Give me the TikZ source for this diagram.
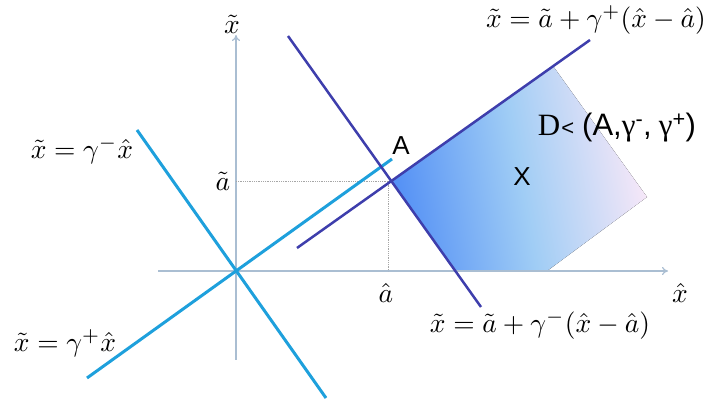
\documentclass[tikz,border=0pt]{standalone}
\usepackage{fontspec}
\setsansfont{Liberation Sans}
\newfontfamily\serifD{Liberation Serif}
\usetikzlibrary{arrows.meta}
\definecolor{cyanline}{RGB}{30,160,220}
\definecolor{darkline}{RGB}{62,62,172}
\definecolor{axiscol}{RGB}{170,190,210}
\definecolor{shadeA}{RGB}{85,145,245}
\definecolor{shadeB}{RGB}{160,205,245}
\definecolor{shadeC}{RGB}{248,232,248}
\tikzset{
  axis/.style={draw=axiscol, line width=1.2pt, -{To[length=6pt,width=8pt]}},
  cyanl/.style={draw=cyanline, line width=3pt},
  darkl/.style={draw=darkline, line width=2.5pt},
  guide/.style={draw=gray!70, line width=0.8pt, densely dotted},
  mlabel/.style={inner sep=0pt, scale=2.75},
  slabel/.style={inner sep=0pt, font=\sffamily\fontsize{26}{30}\selectfont},
}
\begin{document}
\begin{tikzpicture}[x=1pt,y=-1pt]
\useasboundingbox (0,0) rectangle (707,403);
% coordinates
\coordinate (O) at (236,271);
\coordinate (A) at (391,181);
\coordinate (ytop) at (236,35);
\coordinate (ybot) at (236,360);
\coordinate (xl) at (158,271);
\coordinate (xr) at (668,271);
\coordinate (cm1) at (137,130);
\coordinate (cm2) at (326,398);
\coordinate (cp1) at (87,378);
\coordinate (cp2) at (392,159);
\coordinate (dm1) at (288,36);
\coordinate (dm2) at (481,307);
\coordinate (dp1) at (297,248);
\coordinate (dp2) at (590,40);
\coordinate (at) at (236,181);
\coordinate (ah) at (388,271);
\coordinate (ahtop) at (388,181);
% shaded region
\fill[left color=shadeA, right color=shadeC, middle color=shadeB, shading angle=100]
  (A) -- (553,66) -- (647,197) -- (547,271) -- (455,271) -- cycle;
% axes
\draw[axis] (ybot) -- (ytop);
\draw[axis] (xl) -- (xr);
% guides
\draw[guide] (at) -- (A);
\draw[guide] (ahtop) -- (ah);
% lines
\draw[cyanl] (cm1) -- (cm2);
\draw[cyanl] (cp1) -- (cp2);
\draw[darkl] (dm1) -- (dm2);
\draw[darkl] (dp1) -- (dp2);
% labels
\node[mlabel] (ly) at (232,24) {$\tilde{x}$};
\node[mlabel] (lx) at (680,293) {$\hat{x}$};
\node[mlabel] (la) at (223,181) {$\tilde{a}$};
\node[mlabel] (lah) at (386,293) {$\hat{a}$};
\node[mlabel] (lgm) at (82,150) {$\tilde{x}=\gamma^{-}\hat{x}$};
\node[mlabel] (lgp) at (65,343) {$\tilde{x}=\gamma^{+}\hat{x}$};
\node[mlabel] (ldm) at (540,325) {$\tilde{x}=\tilde{a}+\gamma^{-}(\hat{x}-\hat{a})$};
\node[mlabel] (ldp) at (596,20) {$\tilde{x}=\tilde{a}+\gamma^{+}(\hat{x}-\hat{a})$};
\node[slabel] (lA) at (401,146) {A};
\node[slabel] (lX) at (522,177) {X};
\node[slabel, font=\sffamily\fontsize{31}{34}\selectfont] (lD) at (617,128) {{\serifD D}\kern1pt{\fontsize{22}{24}\selectfont<}\kern8pt(A,{\serifD γ}\textsuperscript{-},\kern7pt{\serifD γ}\textsuperscript{+})};
\end{tikzpicture}
\end{document}
